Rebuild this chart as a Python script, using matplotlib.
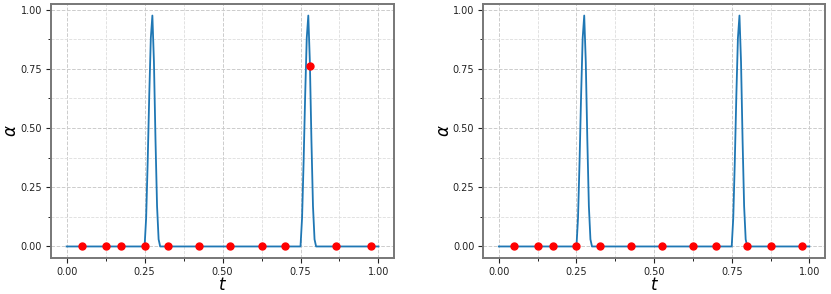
import matplotlib
matplotlib.use('Agg')
import matplotlib.pyplot as plt
from matplotlib.ticker import MultipleLocator

# curve alpha(t) (same curve in both panels)
t_curve = [0.0, 0.25, 0.255, 0.26, 0.265, 0.27, 0.275, 0.28, 0.285, 0.29, 0.295, 0.30,
           0.75, 0.755, 0.76, 0.765, 0.77, 0.775, 0.78, 0.785, 0.79, 0.795, 0.80, 1.0]
a_curve = [0.0, 0.0, 0.12, 0.36, 0.64, 0.88, 0.975, 0.78, 0.45, 0.17, 0.03, 0.0,
           0.0, 0.12, 0.36, 0.64, 0.88, 0.975, 0.78, 0.45, 0.17, 0.03, 0.0, 0.0]

# red sample points
t_left = [0.05, 0.125, 0.175, 0.25, 0.325, 0.425, 0.525, 0.625, 0.70, 0.78, 0.865, 0.975]
a_left = [0, 0, 0, 0, 0, 0, 0, 0, 0, 0.76, 0, 0]
t_right = [0.05, 0.125, 0.175, 0.25, 0.325, 0.425, 0.525, 0.625, 0.70, 0.80, 0.875, 0.975]
a_right = [0] * len(t_right)

fig = plt.figure(figsize=(8.31, 2.94), dpi=100)
ax1 = fig.add_axes([0.0614, 0.1224, 0.4128, 0.864])
ax2 = fig.add_axes([0.5816, 0.1224, 0.411, 0.864])

for ax, ts, al in [(ax1, t_left, a_left), (ax2, t_right, a_right)]:
    ax.plot(t_curve, a_curve, color='tab:blue', lw=1.3)
    ax.plot(ts, al, 'o', color='red', ms=5, zorder=3)
    ax.xaxis.set_major_locator(MultipleLocator(0.25))
    ax.yaxis.set_major_locator(MultipleLocator(0.25))
    ax.xaxis.set_minor_locator(MultipleLocator(0.125))
    ax.yaxis.set_minor_locator(MultipleLocator(0.125))
    ax.xaxis.set_major_formatter('{x:.2f}')
    ax.yaxis.set_major_formatter('{x:.2f}')
    ax.grid(which='major', ls='--', color='#cccccc', lw=0.7)
    ax.grid(which='minor', ls='--', color='#dddddd', lw=0.6)
    ax.set_axisbelow(True)
    ax.tick_params(labelsize=7, colors='#222222', pad=3)
    for s in ax.spines.values():
        s.set_color('#777777'); s.set_linewidth(1.4)
    ax.set_xlabel(r'$t$', fontsize=12, labelpad=-1)
    ax.set_ylabel(r'$\alpha$', fontsize=12, labelpad=0)

plt.savefig('out.png', dpi=100)
